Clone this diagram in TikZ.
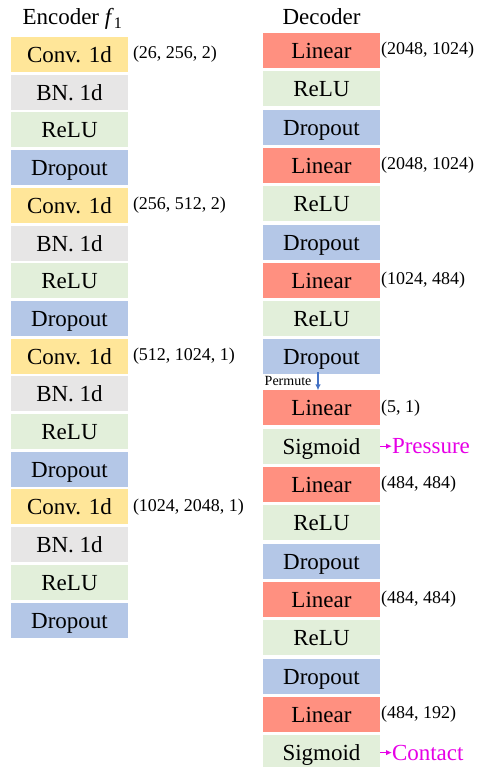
\documentclass[tikz,border=0pt]{standalone}
\usepackage{fontspec}
\setmainfont{Liberation Serif}
\usetikzlibrary{positioning}
\usetikzlibrary{arrows.meta}
\definecolor{convyellow}{RGB}{255,230,153}
\definecolor{bngray}{RGB}{231,230,230}
\definecolor{relugreen}{RGB}{226,239,218}
\definecolor{dropblue}{RGB}{180,199,231}
\definecolor{linred}{RGB}{255,144,128}
\definecolor{permblue}{RGB}{68,114,196}
\definecolor{outmagenta}{RGB}{230,0,230}
\tikzset{>={Latex[length=6pt,width=5.5pt]}, node distance=2.7pt, font=\fontsize{23}{24}\selectfont}
\tikzstyle{block} = [rectangle, minimum height=35pt, minimum width=117pt, inner sep=0pt, outer sep=0pt, text height=16pt, text depth=0pt, text centered]
\tikzstyle{conv} = [block, fill=convyellow]
\tikzstyle{bn} = [block, fill=bngray]
\tikzstyle{act} = [block, fill=relugreen]
\tikzstyle{drop} = [block, fill=dropblue]
\tikzstyle{lin} = [block, fill=linred]
\tikzstyle{title} = [inner sep=0pt, outer sep=0pt, text depth=0pt]
\tikzstyle{dims} = [inner sep=0pt, outer sep=0pt, anchor=west, font=\fontsize{18}{18}\selectfont]
\tikzstyle{outlabel} = [inner sep=0pt, outer sep=0pt, text=outmagenta]

\begin{document}
\begin{tikzpicture}
    \useasboundingbox (0pt,0pt) rectangle (479pt,-767pt);

    % encoder
    \node [conv, anchor=north west] (conv1) at (11pt,-37pt) {Conv. 1d};
    \node [bn, below=of conv1] (bn1) {BN. 1d};
    \node [act, below=of bn1] (relu1) {ReLU};
    \node [drop, below=of relu1] (drop1) {Dropout};
    \node [conv, below=of drop1] (conv2) {Conv. 1d};
    \node [bn, below=of conv2] (bn2) {BN. 1d};
    \node [act, below=of bn2] (relu2) {ReLU};
    \node [drop, below=of relu2] (drop2) {Dropout};
    \node [conv, below=of drop2] (conv3) {Conv. 1d};
    \node [bn, below=of conv3] (bn3) {BN. 1d};
    \node [act, below=of bn3] (relu3) {ReLU};
    \node [drop, below=of relu3] (drop3) {Dropout};
    \node [conv, below=of drop3] (conv4) {Conv. 1d};
    \node [bn, below=of conv4] (bn4) {BN. 1d};
    \node [act, below=of bn4] (relu4) {ReLU};
    \node [drop, below=of relu4] (drop4) {Dropout};
    \node [title, above=12pt of conv1, xshift=3pt] (enc_title) {Encoder \textit{f}\textsubscript{1}};

    \node [dims, right=5pt of conv1] (conv1_dims) {(26, 256, 2)};
    \node [dims, right=5pt of conv2] (conv2_dims) {(256, 512, 2)};
    \node [dims, right=5pt of conv3] (conv3_dims) {(512, 1024, 1)};
    \node [dims, right=5pt of conv4] (conv4_dims) {(1024, 2048, 1)};

    % decoder
    \node [lin, anchor=north west] (dlin1) at (263pt,-33pt) {Linear};
    \node [act, below=3.3pt of dlin1] (drelu1) {ReLU};
    \node [drop, below=3.3pt of drelu1] (ddrop1) {Dropout};
    \node [lin, below=3.3pt of ddrop1] (dlin2) {Linear};
    \node [act, below=3.3pt of dlin2] (drelu2) {ReLU};
    \node [drop, below=3.3pt of drelu2] (ddrop2) {Dropout};
    \node [lin, below=3.3pt of ddrop2] (dlin3) {Linear};
    \node [act, below=3.3pt of dlin3] (drelu3) {ReLU};
    \node [drop, below=3.3pt of drelu3] (ddrop3) {Dropout};
    \node [lin, below=16pt of ddrop3] (dlin4) {Linear};
    \node [act, below=3.3pt of dlin4] (dsig1) {Sigmoid};
    \node [lin, below=3.3pt of dsig1] (dlin5) {Linear};
    \node [act, below=3.3pt of dlin5] (drelu4) {ReLU};
    \node [drop, below=3.3pt of drelu4] (ddrop4) {Dropout};
    \node [lin, below=3.3pt of ddrop4] (dlin6) {Linear};
    \node [act, below=3.3pt of dlin6] (drelu5) {ReLU};
    \node [drop, below=3.3pt of drelu5] (ddrop5) {Dropout};
    \node [lin, below=3.3pt of ddrop5] (dlin7) {Linear};
    \node [act, below=3.3pt of dlin7] (dsig2) {Sigmoid};
    \node [title, above=8pt of dlin1] (dec_title) {Decoder};

    \node [dims, right=1pt of dlin1] (dlin1_dims) {(2048, 1024)};
    \node [dims, right=1pt of dlin2] (dlin2_dims) {(2048, 1024)};
    \node [dims, right=1pt of dlin3] (dlin3_dims) {(1024, 484)};
    \node [dims, right=1pt of dlin4] (dlin4_dims) {(5, 1)};
    \node [dims, right=1pt of dlin5] (dlin5_dims) {(484, 484)};
    \node [dims, right=1pt of dlin6] (dlin6_dims) {(484, 484)};
    \node [dims, right=1pt of dlin7] (dlin7_dims) {(484, 192)};

    \node [outlabel, right=12pt of dsig1] (pressure) {Pressure};
    \node [outlabel, right=12pt of dsig2] (contact) {Contact};

    \draw [->, permblue, line width=1.2pt] ([xshift=-3.5pt,yshift=2pt]ddrop3.south) -- node [left=6pt, name=permute, inner sep=0pt, text=black, font=\fontsize{14}{14}\selectfont] {Permute} ([xshift=-3.5pt]dlin4.north);
    \draw [->, outmagenta, line width=1.2pt] (dsig1) -- (pressure);
    \draw [->, outmagenta, line width=1.2pt] (dsig2) -- (contact);
\end{tikzpicture}
\end{document}
